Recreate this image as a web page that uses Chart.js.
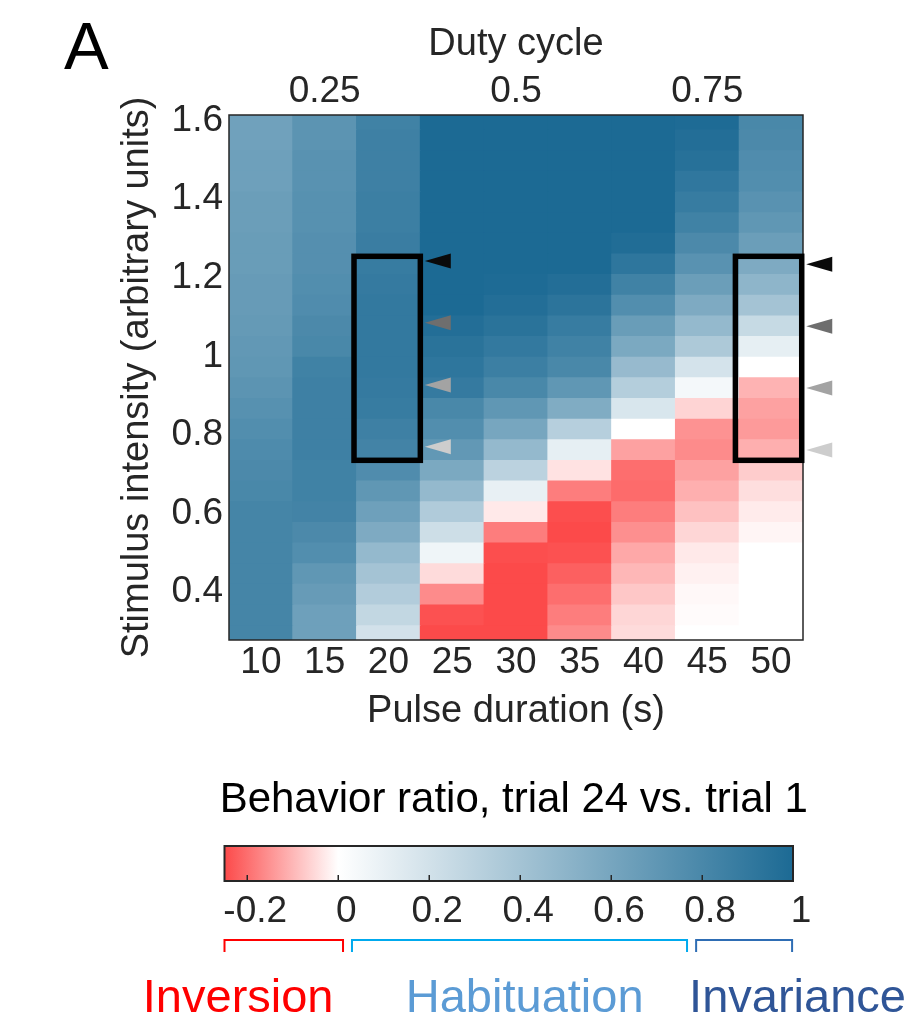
<!DOCTYPE html>
<html><head><meta charset="utf-8">
<script src="https://cdn.jsdelivr.net/npm/chart.js@4.4.1/dist/chart.umd.min.js"></script>
<style>
html,body{margin:0;padding:0;background:#fff;}
#wrap{position:relative;width:923px;height:1026px;overflow:hidden;background:#fff;}
canvas{position:absolute;left:0;}
#main{top:0;}
#cbar{top:760px;}
</style></head><body>
<div id="wrap"><canvas id="main" width="923" height="760"></canvas><canvas id="cbar" width="923" height="266"></canvas></div>
<script>
// ---------------- data ----------------
const pulseDurations = ['10','15','20','25','30','35','40','45','50'];
// stimulus intensity of each row (bottom -> top)
const intensities = [0.2880,0.3406,0.3932,0.4457,0.4983,0.5509,0.6035,0.6561,0.7086,0.7612,
                     0.8138,0.8664,0.9190,0.9715,1.0241,1.0767,1.1293,1.1819,1.2344,1.2870,
                     1.3396,1.3922,1.4448,1.4973,1.5499,1.6025];
// behavior ratio per pulse duration, rows bottom -> top
const ratio10 = [0.82,0.82,0.82,0.82,0.82,0.82,0.82,0.80,0.79,0.78,0.76,0.74,0.72,0.70,0.69,0.68,0.67,0.67,0.66,0.66,0.65,0.65,0.64,0.64,0.63,0.63];
const ratio15 = [0.64,0.64,0.67,0.70,0.76,0.79,0.83,0.84,0.84,0.85,0.85,0.85,0.85,0.84,0.80,0.79,0.77,0.76,0.75,0.75,0.74,0.74,0.73,0.73,0.72,0.72];
const ratio20 = [0.20,0.27,0.34,0.40,0.47,0.57,0.64,0.70,0.77,0.83,0.85,0.88,0.89,0.90,0.90,0.90,0.90,0.89,0.88,0.87,0.86,0.86,0.85,0.85,0.85,0.84];
const ratio25 = [-0.25,-0.24,-0.16,-0.05,0.07,0.22,0.35,0.47,0.58,0.69,0.76,0.80,0.89,0.92,0.94,0.97,1.00,1.00,1.00,1.00,1.00,1.00,1.00,1.00,1.00,1.00];
const ratio30 = [-0.25,-0.25,-0.25,-0.25,-0.245,-0.18,-0.03,0.10,0.30,0.47,0.60,0.70,0.80,0.86,0.90,0.94,0.97,0.99,1.00,1.00,1.00,1.00,1.00,1.00,1.00,1.00];
const ratio35 = [-0.16,-0.18,-0.20,-0.22,-0.24,-0.25,-0.245,-0.18,-0.04,0.11,0.32,0.56,0.70,0.80,0.84,0.88,0.93,0.97,1.00,1.00,1.00,1.00,1.00,1.00,1.00,1.00];
const ratio40 = [-0.05,-0.056,-0.077,-0.10,-0.12,-0.155,-0.18,-0.205,-0.20,-0.13,0.00,0.17,0.33,0.46,0.58,0.66,0.76,0.84,0.92,0.98,1.00,1.00,1.00,1.00,1.00,1.00];
const ratio45 = [0.00,-0.005,-0.01,-0.02,-0.03,-0.056,-0.085,-0.11,-0.13,-0.16,-0.15,-0.06,0.05,0.19,0.36,0.47,0.57,0.65,0.73,0.79,0.84,0.88,0.91,0.95,0.97,0.99];
const ratio50 = [0.00,0.00,0.00,0.00,0.00,-0.014,-0.028,-0.046,-0.07,-0.11,-0.14,-0.13,-0.105,0.00,0.11,0.25,0.40,0.50,0.57,0.65,0.70,0.73,0.76,0.77,0.79,0.80];

const yTicks = [0.4,0.6,0.8,1.0,1.2,1.4,1.6];
const yTickLabels = ['0.4','0.6','0.8','1','1.2','1.4','1.6'];
const dutyTicks = [0.25,0.5,0.75];
const dutyLabels = ['0.25','0.5','0.75'];
const cyclePeriod = 60; // s
const yRange = [0.2778, 1.6145];

// highlighted boxes (pulse duration range, intensity range) and arrow levels
const boxPulseRanges = [[17.3,22.5],[47.2,52.4]];
const boxIntensityRange = [0.7353, 1.2547];
const arrowLevelsLeft = [1.2428,1.0857,0.9271,0.7700];
const arrowLevelsRight = [1.2344,1.0765,0.9194,0.7616];

// colorbar
const cbTitle = 'Behavior ratio, trial 24 vs. trial 1';
const cbRange = [-0.25, 1];
const cbTicks = [-0.2,0,0.2,0.4,0.6,0.8,1];
const cbTickLabels = ['-0.2','0','0.2','0.4','0.6','0.8','1'];
const bracketRanges = [[-0.25,0.0106],[0.0303,0.767],[0.787,0.998]];
const bracketLabels = ['Inversion','Habituation','Invariance'];
const bracketLabelAt = [-0.22,0.41,1.01];

// ---------------- styling ----------------
const FONT = "'Liberation Sans', Arial, Helvetica, sans-serif";
const TXT = '#262626';
const RED = [252,74,74], WHITE = [255,255,255], BLUE = [28,106,148];
const bracketColors = ['#ff0000','#00aaee','#2e6db4'];
const bracketTextColors = ['#ff0000','#5b9bd5','#2f5597'];
const arrowColors = ['#0a0a0a','#6e6e6e','#a3a3a3','#cdcdcd'];
const TICK_SIZE = 37, TITLE_SIZE = 38;

function mix(a,b,t){return 'rgb('+a.map((v,i)=>Math.round(v+(b[i]-v)*t)).join(',')+')';}
function colorFor(v){
  if (v < 0) return mix(WHITE, RED, Math.min(1, -v/(-cbRange[0])));
  return mix(WHITE, BLUE, Math.min(1, v/cbRange[1]));
}

const columns = [ratio10,ratio15,ratio20,ratio25,ratio30,ratio35,ratio40,ratio45,ratio50];
const half = (intensities[1]-intensities[0])/2;
const datasets = intensities.map((inten,k)=>({
  data: columns.map(()=>[inten-half, inten+half]),
  backgroundColor: columns.map(col=>colorFor(col[k])),
  borderWidth:0, inflateAmount:0.5, grouped:false, barPercentage:1, categoryPercentage:1, clip:0
}));

const pulseStep = Number(pulseDurations[1]) - Number(pulseDurations[0]);
const xMin = Number(pulseDurations[0]) - pulseStep/2;
const xMax = Number(pulseDurations[pulseDurations.length-1]) + pulseStep/2;

const mainOverlay = {
  id:'mainOverlay',
  afterDatasetsDraw(chart){
    const {ctx, chartArea:a} = chart;
    const xs = chart.scales.x2, ys = chart.scales.y;
    ctx.save();
    ctx.strokeStyle = TXT; ctx.lineWidth = 1.5;
    ctx.strokeRect(a.left, a.top, a.right-a.left, a.bottom-a.top);
    const levels = [arrowLevelsLeft, arrowLevelsRight];
    boxPulseRanges.forEach((b,i)=>{
      const x0 = xs.getPixelForValue(b[0]), x1 = xs.getPixelForValue(b[1]);
      const y0 = ys.getPixelForValue(boxIntensityRange[1]), y1 = ys.getPixelForValue(boxIntensityRange[0]);
      ctx.strokeStyle = '#000'; ctx.lineWidth = 5.5;
      ctx.strokeRect(x0, y0, x1-x0, y1-y0);
      levels[i].forEach((lv,j)=>{
        const tip = x1 + 4.5, y = ys.getPixelForValue(lv);
        ctx.fillStyle = arrowColors[j];
        ctx.beginPath(); ctx.moveTo(tip,y); ctx.lineTo(tip+26,y-7.5); ctx.lineTo(tip+26,y+7.5); ctx.closePath(); ctx.fill();
      });
    });
    ctx.restore();
  },
  afterDraw(chart){
    const ctx = chart.ctx;
    ctx.save();
    ctx.fillStyle = '#000'; ctx.font = '67px '+FONT; ctx.textBaseline='alphabetic'; ctx.textAlign='left';
    ctx.fillText('A', 64, 69);
    ctx.restore();
  }
};

new Chart(document.getElementById('main'), {
  type:'bar',
  data:{labels:pulseDurations, datasets},
  options:{
    responsive:false, animation:false, devicePixelRatio:1,
    layout:{padding:{left:115,right:120,top:0,bottom:0}},
    plugins:{legend:{display:false}, tooltip:{enabled:false}, title:{display:false}},
    scales:{
      x:{type:'category', position:'bottom', offset:true,
         grid:{display:false, drawTicks:false}, border:{display:false},
         ticks:{color:TXT, font:{family:FONT,size:TICK_SIZE}, padding:1, autoSkip:false, maxRotation:0},
         title:{display:true, text:'Pulse duration (s)', color:TXT, font:{family:FONT,size:TITLE_SIZE}, padding:{top:0,bottom:26}},
         afterFit(s){ s.height = 120; }},
      x2:{type:'linear', position:'top', min:xMin, max:xMax, offset:false,
         grid:{display:false, drawTicks:false, offset:false}, border:{display:false},
         afterBuildTicks(s){ s.ticks = dutyTicks.map(d=>({value:d*cyclePeriod})); },
         ticks:{color:TXT, font:{family:FONT,size:TICK_SIZE}, padding:1, autoSkip:false, maxRotation:0,
                callback:(v,i)=>dutyLabels[i]},
         title:{display:true, text:'Duty cycle', color:TXT, font:{family:FONT,size:TITLE_SIZE}, padding:{top:22,bottom:0}},
         afterFit(s){ s.height = 115; }},
      y:{type:'linear', position:'left', min:yRange[0], max:yRange[1],
         grid:{display:false, drawTicks:false}, border:{display:false},
         afterBuildTicks(s){ s.ticks = yTicks.map(v=>({value:v})); },
         ticks:{color:TXT, font:{family:FONT,size:TICK_SIZE}, padding:6, autoSkip:false,
                callback:(v,i)=>yTickLabels[i]},
         title:{display:true, text:'Stimulus intensity (arbitrary units)', color:TXT, font:{family:FONT,size:TITLE_SIZE}, padding:{top:0,bottom:0}},
         afterFit(s){ s.width = 114; }}
    }
  },
  plugins:[mainOverlay]
});

// ---------------- colorbar ----------------
const cbOverlay = {
  id:'cbOverlay',
  afterDatasetsDraw(chart){
    const {ctx, chartArea:a} = chart; const xs = chart.scales.x;
    ctx.save();
    ctx.strokeStyle = TXT; ctx.lineWidth = 1.5;
    cbTicks.forEach(v=>{
      const x = Math.round(xs.getPixelForValue(v))+0.25;
      ctx.beginPath(); ctx.moveTo(x, a.bottom); ctx.lineTo(x, a.bottom-6); ctx.stroke();
    });
    ctx.lineWidth = 2;
    ctx.strokeRect(a.left, a.top, a.right-a.left, a.bottom-a.top);
    ctx.restore();
  },
  afterDraw(chart){
    const {ctx, chartArea:a} = chart; const xs = chart.scales.x;
    ctx.save();
    // colorbar title
    ctx.fillStyle = '#000'; ctx.font = '42px '+FONT; ctx.textAlign='center'; ctx.textBaseline='middle';
    ctx.fillText(cbTitle, (a.left+a.right)/2 + 5, a.top - 46);
    ctx.lineWidth = 2;
    bracketRanges.forEach((r,i)=>{
      const x0 = xs.getPixelForValue(r[0]), x1 = xs.getPixelForValue(r[1]);
      const yTop = a.bottom + 59, yBot = a.bottom + 71;
      ctx.strokeStyle = bracketColors[i];
      ctx.beginPath(); ctx.moveTo(x0, yBot); ctx.lineTo(x0, yTop); ctx.lineTo(x1, yTop); ctx.lineTo(x1, yBot); ctx.stroke();
      ctx.fillStyle = bracketTextColors[i];
      ctx.font = '47px '+FONT; ctx.textAlign='center'; ctx.textBaseline='alphabetic';
      ctx.fillText(bracketLabels[i], xs.getPixelForValue(bracketLabelAt[i]), a.bottom + 131);
    });
    ctx.restore();
  }
};

new Chart(document.getElementById('cbar'), {
  type:'bar',
  data:{labels:['ratio'], datasets:[{
    data:[[cbRange[0], cbRange[1]]],
    backgroundColor:(c)=>{
      const a = c.chart.chartArea; if(!a) return '#ffffff';
      const g = c.chart.ctx.createLinearGradient(a.left,0,a.right,0);
      g.addColorStop(0, mix(RED,RED,0));
      g.addColorStop((0-cbRange[0])/(cbRange[1]-cbRange[0]), '#ffffff');
      g.addColorStop(1, mix(BLUE,BLUE,0));
      return g;
    },
    borderWidth:0, barPercentage:1, categoryPercentage:1
  }]},
  options:{
    indexAxis:'y', responsive:false, animation:false, devicePixelRatio:1,
    layout:{padding:{left:224.5,right:130,top:86,bottom:85}},
    plugins:{legend:{display:false}, tooltip:{enabled:false}, title:{display:false}},
    scales:{
      y:{display:false},
      x:{type:'linear', min:cbRange[0], max:cbRange[1],
         grid:{display:false, drawTicks:false}, border:{display:false},
         afterBuildTicks(s){ s.ticks = cbTicks.map(v=>({value:v})); },
         ticks:{color:TXT, font:{family:FONT,size:TICK_SIZE}, padding:9, labelOffset:8, autoSkip:false, maxRotation:0,
                callback:(v,i)=>cbTickLabels[i]},
         afterFit(s){ s.height = 60; }}
    }
  },
  plugins:[cbOverlay]
});
</script>
</body></html>
